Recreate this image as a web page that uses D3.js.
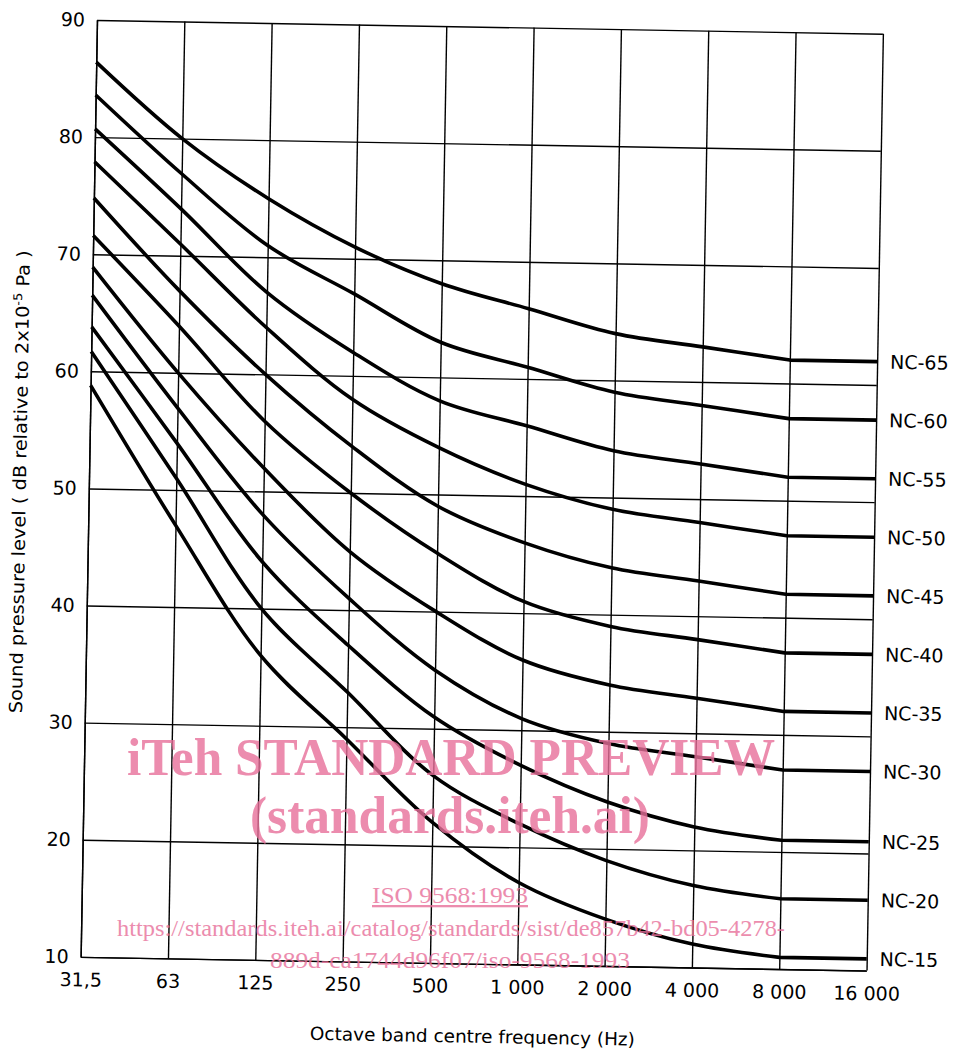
<!DOCTYPE html>
<html>
<head>
<meta charset="utf-8">
<script src="https://cdn.jsdelivr.net/npm/d3@7"></script>
<style>
  body { margin: 0; background: #fff; }
  svg { display: block; }
  .tick line, .domain { stroke: #000; stroke-width: 1.4; }
  .lbl { font-family: "DejaVu Sans", sans-serif; fill: #000; }
  .wm { font-family: "Liberation Serif", "Times New Roman", serif; fill: #e8709a; opacity: 0.8; }
</style>
</head>
<body>
<script>
// octave band centre frequencies (tick labels)
var freqs = ["31,5", "63", "125", "250", "500", "1 000", "2 000", "4 000", "8 000", "16 000"];
var yTicks = [10, 20, 30, 40, 50, 60, 70, 80, 90];

// NC curves, dB per band (31,5 ... 16 000)
var ncNames = ["NC-65", "NC-60", "NC-55", "NC-50", "NC-45", "NC-40", "NC-35", "NC-30", "NC-25", "NC-20", "NC-15"];
var nc65 = [86.4, 80, 75, 71, 68, 66, 64, 63, 62, 62];
var nc60 = [83.6, 77, 71, 67, 63, 61, 59, 58, 57, 57];
var nc55 = [80.7, 74, 67, 62, 58, 56, 54, 53, 52, 52];
var nc50 = [77.9, 71, 64, 58, 54, 51, 49, 48, 47, 47];
var nc45 = [74.8, 67, 60, 54, 49, 46, 44, 43, 42, 42];
var nc40 = [71.6, 64, 56, 50, 45, 41, 39, 38, 37, 37];
var nc35 = [68.9, 60, 52, 45, 40, 36, 34, 33, 32, 32];
var nc30 = [66.5, 57, 48, 41, 35, 31, 29, 28, 27, 27];
var nc25 = [63.8, 54, 44, 37, 31, 27, 24, 22, 21, 21];
var nc20 = [61.7, 51, 40, 33, 26, 22, 19, 17, 16, 16];
var nc15 = [58.8, 47, 36, 29, 22, 17, 14, 12, 11, 11];
var ncValues = [nc65, nc60, nc55, nc50, nc45, nc40, nc35, nc30, nc25, nc20, nc15];

var width = 786,
    height = 937,
    margin = {top: 20, left: 97},
    tilt = 1;   // the scanned sheet sits about a degree off square

var svg = d3.select("body").append("svg")
    .attr("width", 954)
    .attr("height", 1056);

svg.append("rect").attr("width", 954).attr("height", 1056).attr("fill", "#fff");

var g = svg.append("g")
    .attr("transform", "translate(" + margin.left + "," + margin.top + ") rotate(" + tilt + ")");

var xScale = d3.scalePoint().domain(freqs).range([0, width]).padding(0),
    yScale = d3.scaleLinear().domain([10, 90]).range([height, 0]);

// horizontal grid + left labels
g.append("g")
    .call(d3.axisLeft(yScale).tickValues(yTicks).tickSize(-width).tickSizeOuter(0).tickPadding(12).tickFormat(d3.format("d")));

// vertical grid + bottom labels
g.append("g")
    .attr("transform", "translate(0," + height + ")")
    .call(d3.axisBottom(xScale).tickSize(-height).tickSizeOuter(0).tickPadding(16));

g.selectAll(".tick text")
    .attr("class", "lbl")
    .attr("fill", "#000")
    .style("font-size", "19px");
svg.selectAll(".domain").attr("fill", "none");

// smooth through 31,5..8 000, then flat run to 16 000
var line = d3.line()
    .x(function(d) { return xScale(d[0]); })
    .y(function(d) { return yScale(d[1]); })
    .curve(d3.curveCatmullRom.alpha(0.5));

function curvePath(vals) {
    var pts = vals.map(function(v, i) { return [freqs[i], v]; });
    var last = pts.pop();
    return line(pts) + "L" + xScale(last[0]) + "," + yScale(last[1]);
}

g.selectAll(".curve")
    .data(ncValues)
    .enter().append("path")
    .attr("class", "curve")
    .attr("d", curvePath)
    .attr("fill", "none")
    .attr("stroke", "#000")
    .attr("stroke-width", 3.6)
    .attr("stroke-linejoin", "round");

g.selectAll(".nclabel")
    .data(ncValues)
    .enter().append("text")
    .attr("class", "lbl")
    .attr("x", width + 13)
    .attr("y", function(d) { return yScale(d[d.length - 1]); })
    .attr("dy", "0.36em")
    .style("font-size", "19px")
    .text(function(d, i) { return ncNames[i]; });

// axis titles
g.append("text")
    .attr("class", "lbl")
    .attr("x", width / 2)
    .attr("y", height + 79)
    .attr("text-anchor", "middle")
    .attr("textLength", 325)
    .attr("lengthAdjust", "spacingAndGlyphs")
    .style("font-size", "18px")
    .text("Octave band centre frequency (Hz)");

var yt = g.append("text")
    .attr("class", "lbl")
    .attr("transform", "translate(-63," + 463 + ") rotate(-90)")
    .attr("text-anchor", "middle")
    .attr("textLength", 463)
    .attr("lengthAdjust", "spacingAndGlyphs")
    .style("font-size", "18px");
yt.append("tspan").text("Sound pressure level ( dB relative to 2x10");
yt.append("tspan").attr("dy", -7).style("font-size", "12px").text("-5");
yt.append("tspan").attr("dy", 7).text(" Pa )");

// preview watermark printed over the scan
var wm = svg.append("g").attr("text-anchor", "middle");
wm.append("text").attr("class", "wm").attr("x", 451).attr("y", 775)
    .style("font-size", "52px").style("font-weight", "bold")
    .attr("textLength", 648).attr("lengthAdjust", "spacingAndGlyphs")
    .text("iTeh STANDARD PREVIEW");
wm.append("text").attr("class", "wm").attr("x", 450).attr("y", 833)
    .style("font-size", "52px").style("font-weight", "bold")
    .attr("textLength", 400).attr("lengthAdjust", "spacingAndGlyphs")
    .text("(standards.iteh.ai)");
wm.append("text").attr("class", "wm").attr("x", 450).attr("y", 903)
    .style("font-size", "23px").style("text-decoration", "underline")
    .attr("textLength", 156).attr("lengthAdjust", "spacingAndGlyphs")
    .text("ISO 9568:1993");
wm.append("text").attr("class", "wm").attr("x", 451).attr("y", 936)
    .style("font-size", "23px")
    .attr("textLength", 668).attr("lengthAdjust", "spacingAndGlyphs")
    .text("https://standards.iteh.ai/catalog/standards/sist/de857b42-bd05-4278-");
wm.append("text").attr("class", "wm").attr("x", 450).attr("y", 968)
    .style("font-size", "23px")
    .attr("textLength", 360).attr("lengthAdjust", "spacingAndGlyphs")
    .text("889d-ca1744d96f07/iso-9568-1993");
</script>
</body>
</html>
